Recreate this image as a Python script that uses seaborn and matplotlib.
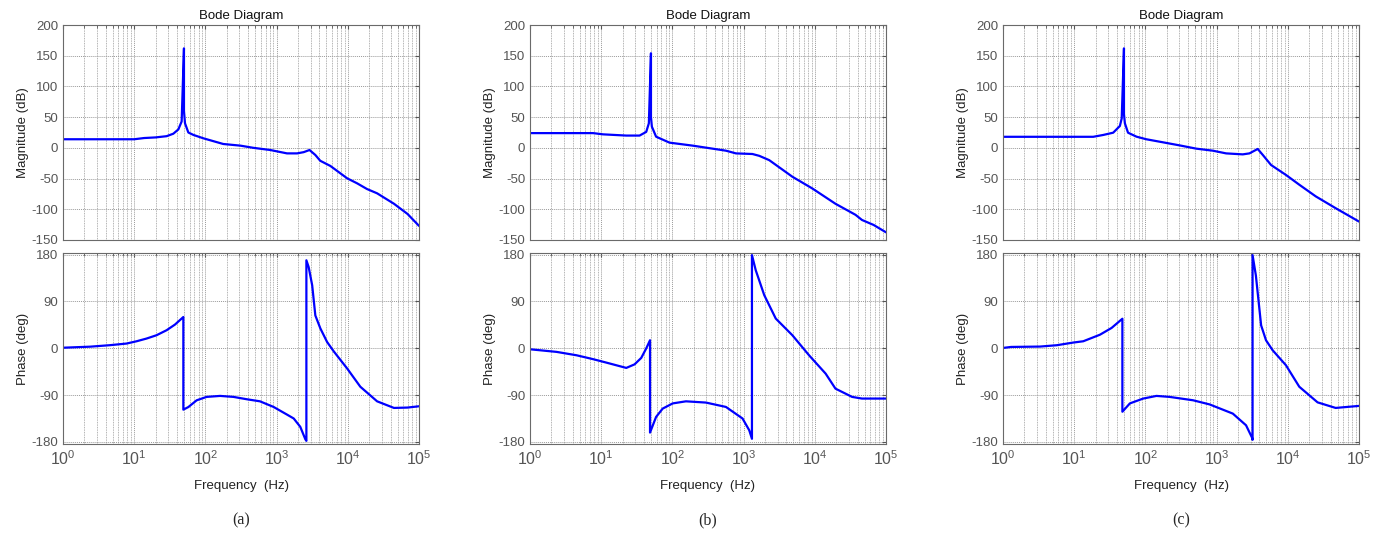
import numpy as np
import pandas as pd
import seaborn as sns
import matplotlib.pyplot as plt
from matplotlib.ticker import LogLocator, FixedLocator, NullFormatter

# (a) magnitude
fa_mag = [1, 10, 13.8, 20, 28.5, 35.4, 41.7, 46.4, 50, 50, 51.7, 57.6, 68, 94, 178, 310, 475, 815,
          1400, 1940, 2400, 2900, 3500, 4100, 5700, 9800, 13500, 18600, 25800, 44500, 69000, 100000]
ma = [14, 14, 16, 17, 19, 23, 30, 43, 162, 60, 40, 25, 21, 15.5, 6.3, 3.6, 0, -3.5,
      -9, -9, -7, -3.5, -11.6, -21, -29.5, -49.6, -57.7, -67, -74, -91, -107.6, -127]
# (a) phase
fa_ph = [1, 2.4, 4.5, 7.8, 10.8, 14.9, 20.6, 28.5, 37.4, 49, 49, 57.6, 75.5, 104, 161, 248, 381, 584,
         907, 1400, 1740, 2150, 2535, 2620, 2620, 2820, 3160, 3500, 4120, 5120, 6330, 9800, 15000,
         25800, 44500, 69000, 100000]
pa = [1, 3, 5.8, 9, 13.4, 18.6, 25, 34.6, 45.5, 60, -118, -113, -100, -93.5, -91.6, -93.5, -98, -102,
      -112.8, -127.5, -135, -151, -175, -178, 169, 156, 121, 63, 38, 12, -5.8, -39, -74,
      -102, -114.7, -114, -111.5]

# (b) magnitude
fb_mag = [1, 7.7, 10.6, 22.5, 34.6, 42.9, 46.7, 50, 50, 51.5, 59, 91, 193, 367, 565, 780, 1330,
          1660, 2290, 4840, 9200, 19500, 37300, 46000, 67000, 100000]
mb = [24, 24, 22, 20, 20, 26, 40, 154, 50, 34.5, 18.2, 8.5, 3.6, -1.3, -4.6, -9, -10,
      -13, -20, -47, -66, -91, -109, -117.4, -125.5, -137.5]
# (b) phase
fb_ph = [1, 2.36, 4.5, 7.7, 11.8, 22.5, 29.4, 36.5, 42.8, 48.5, 48.5, 59, 73, 101, 155, 296, 565,
         966, 1200, 1310, 1310, 1480, 1950, 2830, 4840, 8300, 14200, 19500, 33400, 46000, 100000]
pb = [-2, -7, -13.5, -21, -27.6, -37.8, -31, -18.6, -0.6, 15.4, -162, -132, -116, -106, -102, -104.4,
      -112.8, -135, -157.6, -174, 179, 150, 102, 57, 25, -13.5, -48.8, -77.6, -93.5, -96.7, -96.7]

# (c) magnitude
fc_mag = [1, 18.5, 25.6, 35.3, 43.8, 46.5, 50, 50, 51.5, 57, 75, 103, 177, 303, 519, 885, 1360,
          2330, 2890, 3780, 4460, 5820, 9400, 14500, 24700, 47300, 100000]
mc = [18, 18, 21, 24.7, 35.6, 48, 162, 55, 40, 24.7, 18.2, 14, 9, 4, -1.3, -4.6, -9,
      -10.6, -9, -1.8, -11.6, -27.9, -44, -60, -79, -98.4, -120]
# (c) phase
fc_ph = [1, 1.3, 3.3, 5.7, 9.8, 13.4, 23, 33.5, 47.5, 47.5, 60.5, 93, 143, 219, 468, 800, 1690,
         2590, 3150, 3200, 3200, 3560, 4220, 4940, 6120, 9420, 14500, 26200, 47000, 100000]
pc = [0.6, 2.5, 3.2, 5.8, 11, 13.4, 26, 39, 56.7, -122, -106, -96.7, -91.6, -93.5, -100, -108, -125.6,
      -148, -172, -176, 179, 140, 44, 15.4, -3.8, -32.7, -74, -104, -114.7, -110.8]

panels = [
    (fa_mag, ma, fa_ph, pa, "(a)"),
    (fb_mag, mb, fb_ph, pb, "(b)"),
    (fc_mag, mc, fc_ph, pc, "(c)"),
]

sns.set_style("white")
plt.rcParams["font.family"] = ["Liberation Sans", "DejaVu Sans"]
plt.rcParams["axes.unicode_minus"] = False
plt.rcParams["mathtext.fontset"] = "custom"
plt.rcParams["mathtext.rm"] = "Liberation Sans"
plt.rcParams["mathtext.it"] = "Liberation Sans"

fig = plt.figure(figsize=(13.87, 5.35), dpi=100)
W, H = 1387, 535
lefts = [63, 530, 1003]
width = 356
tick_col = "#555555"
grid_col = "#9a9a9a"


def style_axis(ax, xlabels):
    ax.set_xscale("log")
    ax.set_xlim(1, 1e5)
    ax.xaxis.set_major_locator(FixedLocator([1, 10, 100, 1e3, 1e4, 1e5]))
    ax.xaxis.set_minor_locator(LogLocator(base=10, subs=np.arange(2, 10), numticks=20))
    ax.xaxis.set_minor_formatter(NullFormatter())
    if xlabels:
        ax.set_xticklabels([r"$\mathrm{10}^{\mathrm{%d}}$" % k for k in range(6)])
    else:
        ax.set_xticklabels([])
    ax.grid(True, which="major", color=grid_col, linestyle=(0, (1, 1)), linewidth=0.7)
    ax.grid(True, which="minor", axis="x", color=grid_col, linestyle=(0, (1, 1)), linewidth=0.6)
    ax.tick_params(which="both", direction="in", top=True, right=True, colors=tick_col,
                   labelsize=9.5, length=3)
    ax.tick_params(axis="x", labelsize=11.5)
    ax.tick_params(which="minor", length=2)
    for s in ax.spines.values():
        s.set_color("#6a6a6a")
        s.set_linewidth(0.8)


for i, (fm, mm, fp, pp, cap) in enumerate(panels):
    x0 = lefts[i] / W
    ax1 = fig.add_axes([x0, 1 - 240 / H, width / W, 215 / H])
    ax2 = fig.add_axes([x0, 1 - 444 / H, width / W, 191 / H])

    dm = pd.DataFrame({"f": fm, "v": mm})
    dp = pd.DataFrame({"f": fp, "v": pp})
    sns.lineplot(data=dm, x="f", y="v", ax=ax1, color="#0000ff", lw=1.6,
                 estimator=None, sort=False)
    sns.lineplot(data=dp, x="f", y="v", ax=ax2, color="#0000ff", lw=1.6,
                 estimator=None, sort=False)

    style_axis(ax1, False)
    ax1.set_ylim(-150, 200)
    ax1.set_yticks(np.arange(-150, 201, 50))
    ax1.set_xlabel("")
    ax1.set_ylabel("Magnitude (dB)", fontsize=9.5, color="#222222", labelpad=2)
    ax1.set_title("Bode Diagram", fontsize=9.5, color="#111111", pad=4)

    style_axis(ax2, True)
    ax2.set_ylim(-184, 183)
    ax2.set_yticks([-180, -90, 0, 90, 180])
    ax2.set_xlabel("Frequency  (Hz)", fontsize=9.5, color="#222222", labelpad=9)
    ax2.set_ylabel("Phase (deg)", fontsize=9.5, color="#222222", labelpad=2)

    fig.text(x0 + width / W / 2, 1 - 520 / H, cap, ha="center", va="center",
             fontsize=11.5, family="Liberation Serif")

fig.savefig("out.png", dpi=100)
